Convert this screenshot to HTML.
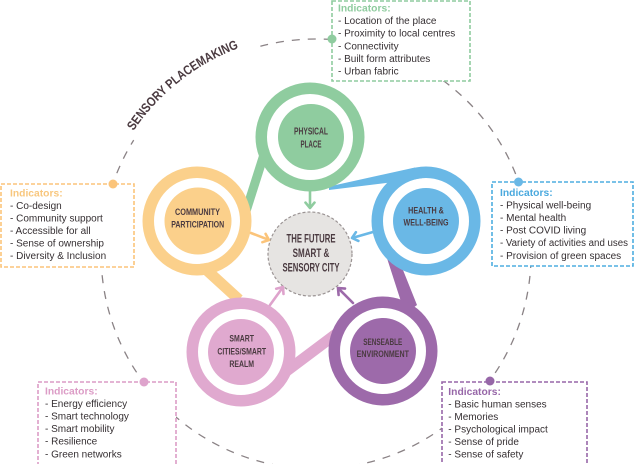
<!DOCTYPE html>
<html><head><meta charset="utf-8">
<style>
html,body{margin:0;padding:0;background:#fff;}
svg{display:block;}
.b{font-family:"Liberation Sans",sans-serif;font-size:10px;fill:#352f32;}
.h{font-family:"Liberation Sans",sans-serif;font-size:10.3px;font-weight:bold;}
.n{font-family:"Liberation Sans",sans-serif;font-weight:bold;fill:#4a3a40;}
</style></head>
<body>
<svg width="635" height="464" viewBox="0 0 635 464" xmlns="http://www.w3.org/2000/svg">
<rect width="635" height="464" fill="#fff"/>

<!-- outer dashed circle (gap for title) -->
<path d="M 260.4 46.3 A 215 215 0 1 1 133.7 140.1" fill="none" stroke="#8a8285" stroke-width="1.3" stroke-dasharray="8 8"/>
<path id="arc" d="M 133.6 131 A 220 220 0 0 1 251.7 43.6" fill="none"/>
<text class="n" font-size="13" fill="#4a3f45"><textPath href="#arc" textLength="136" lengthAdjust="spacingAndGlyphs">SENSORY PLACEMAKING</textPath></text>

<!-- tails -->
<polygon points="241,212 249.6,214.7 270.6,148.7 262,146" fill="#8fcc9f"/>
<polygon points="196.4,268.1 203.6,259.9 242.6,295.5 235.4,303.7" fill="#fbd08b"/>
<polygon points="329,186.5 415,167.5 422,178.5 329,190" fill="#6ab8e6"/>
<polygon points="385,252 395,250 417,305 405,314" fill="#9d6aaa"/>
<polygon points="282.7,367.1 289.3,375.9 345.3,333.9 338.7,325.1" fill="#e0a9cf"/>

<!-- rings -->
<g>
<circle cx="310" cy="137" r="43" fill="#fff"/>
<circle cx="310" cy="137" r="48.75" fill="none" stroke="#8fcc9f" stroke-width="11.5"/>
<circle cx="311" cy="137" r="33" fill="#8fcc9f"/>
</g>
<g>
<circle cx="197" cy="221" r="43" fill="#fff"/>
<circle cx="197" cy="221" r="48.75" fill="none" stroke="#fbd08b" stroke-width="11.5"/>
<circle cx="198" cy="221" r="33.5" fill="#fbd08b"/>
</g>
<g>
<circle cx="426" cy="221" r="43" fill="#fff"/>
<circle cx="426" cy="221" r="48.75" fill="none" stroke="#6ab8e6" stroke-width="11.5"/>
<circle cx="426" cy="221" r="33" fill="#6ab8e6"/>
</g>
<g>
<circle cx="383" cy="351" r="43" fill="#fff"/>
<circle cx="383" cy="351" r="48.75" fill="none" stroke="#9d6aaa" stroke-width="11.5"/>
<circle cx="383" cy="351" r="33" fill="#9d6aaa"/>
</g>
<g>
<circle cx="241" cy="352" r="43" fill="#fff"/>
<circle cx="241" cy="352" r="48.75" fill="none" stroke="#e0a9cf" stroke-width="11.5"/>
<circle cx="241" cy="352" r="33" fill="#e0a9cf"/>
</g>

<!-- center -->
<circle cx="310" cy="254" r="42" fill="#e6e4e2" stroke="#9b9494" stroke-width="1.2" stroke-dasharray="3 2"/>

<!-- arrows -->
<g fill="none" stroke-width="2.6" stroke-linecap="round" stroke-linejoin="round">
<g stroke="#8fcc9f"><line x1="310" y1="191" x2="310" y2="207"/><polyline points="305.5,202.6 310,208 314.5,202.6"/></g>
<g stroke="#fbc47a"><line x1="251" y1="233" x2="268" y2="239.6"/><polyline points="265.6,233.9 269,240 262.4,242.2"/></g>
<g stroke="#6ab8e6"><line x1="373" y1="232" x2="353" y2="237.7"/><polyline points="358.4,240.9 352,238 355.9,232.2"/></g>
<g stroke="#dea3cc"><line x1="270" y1="305" x2="282.5" y2="287.7"/><polyline points="276.2,288.7 283,287 283.5,294"/></g>
<g stroke="#9d6aaa"><line x1="353" y1="303" x2="338.7" y2="288.7"/><polyline points="338.6,295 338,288 345,288.6"/></g>
</g>

<!-- node labels -->
<text class="n" font-size="10" text-anchor="middle" x="311" y="134.3" textLength="34" lengthAdjust="spacingAndGlyphs">PHYSICAL</text>
<text class="n" font-size="10" text-anchor="middle" x="311" y="147.3" textLength="21" lengthAdjust="spacingAndGlyphs">PLACE</text>

<text class="n" font-size="9.5" text-anchor="middle" x="197.5" y="215.2" textLength="45" lengthAdjust="spacingAndGlyphs">COMMUNITY</text>
<text class="n" font-size="9.5" text-anchor="middle" x="197.7" y="227.6" textLength="53" lengthAdjust="spacingAndGlyphs">PARTICIPATION</text>

<text class="n" font-size="9.5" text-anchor="middle" x="426" y="213.5" textLength="35.7" lengthAdjust="spacingAndGlyphs">HEALTH &amp;</text>
<text class="n" font-size="9.5" text-anchor="middle" x="426" y="225.3" textLength="45" lengthAdjust="spacingAndGlyphs">WELL-BEING</text>

<text class="n" font-size="9.5" text-anchor="middle" x="382.8" y="345.2" textLength="39" lengthAdjust="spacingAndGlyphs">SENSEABLE</text>
<text class="n" font-size="9.5" text-anchor="middle" x="382.8" y="356.9" textLength="52.3" lengthAdjust="spacingAndGlyphs">ENVIRONMENT</text>

<text class="n" font-size="9.5" text-anchor="middle" x="241.7" y="341.5" textLength="24.7" lengthAdjust="spacingAndGlyphs">SMART</text>
<text class="n" font-size="9.5" text-anchor="middle" x="241.7" y="354.5" textLength="48.7" lengthAdjust="spacingAndGlyphs">CITIES/SMART</text>
<text class="n" font-size="9.5" text-anchor="middle" x="241.7" y="366.9" textLength="24.7" lengthAdjust="spacingAndGlyphs">REALM</text>

<text class="n" font-size="12" text-anchor="middle" x="311" y="242.4" textLength="49" lengthAdjust="spacingAndGlyphs">THE FUTURE</text>
<text class="n" font-size="12" text-anchor="middle" x="311" y="257" textLength="36.7" lengthAdjust="spacingAndGlyphs">SMART &amp;</text>
<text class="n" font-size="12" text-anchor="middle" x="311" y="271.4" textLength="57" lengthAdjust="spacingAndGlyphs">SENSORY CITY</text>

<!-- indicator boxes -->
<g stroke-width="1.6" stroke-dasharray="4 2">
<rect x="332" y="1" width="138" height="80" fill="#fff" stroke="#8fcc9f"/>
<rect x="1" y="184" width="133" height="83" fill="#fff" stroke="#fbc47a"/>
<rect x="492" y="182" width="141" height="84" fill="#fff" stroke="#4eaee0"/>
<rect x="38" y="382" width="138" height="90" fill="#fff" stroke="#dc9cc6"/>
<rect x="442" y="382" width="145" height="90" fill="#fff" stroke="#9767a8"/>
</g>
<circle cx="332" cy="39" r="4.5" fill="#8fcc9f"/>
<circle cx="113" cy="184" r="4.5" fill="#fbc47a"/>
<circle cx="518.5" cy="182" r="4.5" fill="#6ab8e6"/>
<circle cx="144" cy="382" r="4.5" fill="#dea3cc"/>
<circle cx="490" cy="381" r="4.5" fill="#9767a8"/>

<!-- green box text -->
<text class="h" x="338" y="11.5" fill="#8fcc9f">Indicators:</text>
<text class="b" x="338" y="24.1">- Location of the place</text>
<text class="b" x="338" y="36.7">- Proximity to local centres</text>
<text class="b" x="338" y="49.3">- Connectivity</text>
<text class="b" x="338" y="61.9">- Built form attributes</text>
<text class="b" x="338" y="74.5">- Urban fabric</text>

<!-- yellow box text -->
<text class="h" x="10" y="196.5" fill="#f8c77e">Indicators:</text>
<text class="b" x="10" y="209">- Co-design</text>
<text class="b" x="10" y="221.5">- Community support</text>
<text class="b" x="10" y="234">- Accessible for all</text>
<text class="b" x="10" y="246.5">- Sense of ownership</text>
<text class="b" x="10" y="259">- Diversity &amp; Inclusion</text>

<!-- blue box text -->
<text class="h" x="500" y="195.8" fill="#4aa9de">Indicators:</text>
<text class="b" x="500" y="208.4">- Physical well-being</text>
<text class="b" x="500" y="221">- Mental health</text>
<text class="b" x="500" y="233.6">- Post COVID living</text>
<text class="b" x="500" y="246.2" textLength="128" lengthAdjust="spacingAndGlyphs">- Variety of activities and uses</text>
<text class="b" x="500" y="258.8">- Provision of green spaces</text>

<!-- pink box text -->
<text class="h" x="45" y="394.3" fill="#dc9cc6">Indicators:</text>
<text class="b" x="45" y="406.9">- Energy efficiency</text>
<text class="b" x="45" y="419.5">- Smart technology</text>
<text class="b" x="45" y="432.1">- Smart mobility</text>
<text class="b" x="45" y="444.7">- Resilience</text>
<text class="b" x="45" y="457.3">- Green networks</text>

<!-- purple box text -->
<text class="h" x="448.3" y="395.2" fill="#9767a8">Indicators:</text>
<text class="b" x="448.3" y="407.7">- Basic human senses</text>
<text class="b" x="448.3" y="420.2">- Memories</text>
<text class="b" x="448.3" y="432.7">- Psychological impact</text>
<text class="b" x="448.3" y="445.2">- Sense of pride</text>
<text class="b" x="448.3" y="457.7">- Sense of safety</text>
</svg>
</body></html>
